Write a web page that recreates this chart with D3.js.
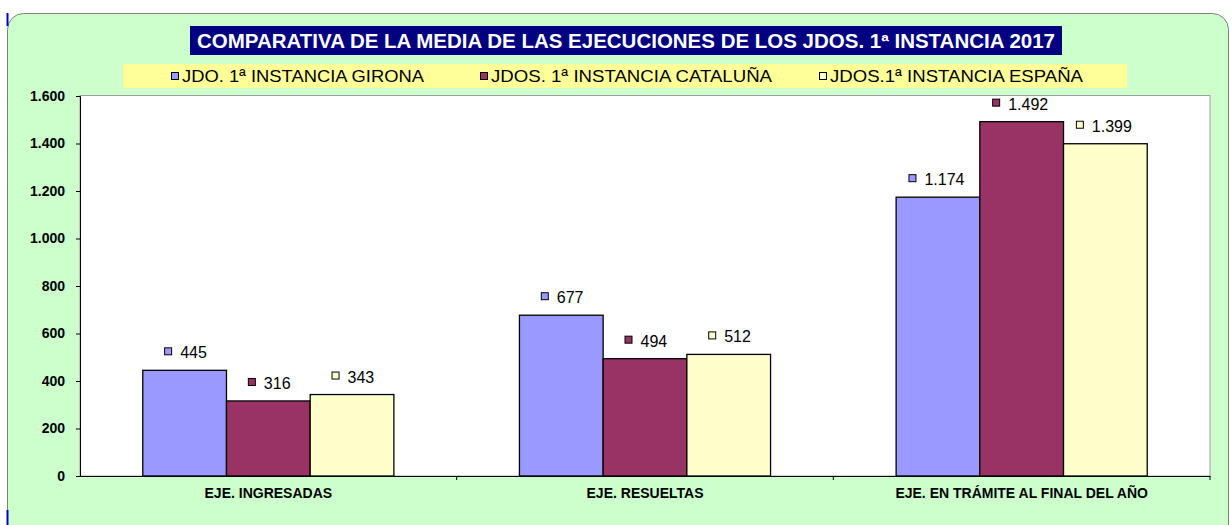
<!DOCTYPE html>
<html>
<head>
<meta charset="utf-8">
<script src="https://cdn.jsdelivr.net/npm/d3@7"></script>
<style>
body { margin: 0; background: #fff; }
text { font-family: Arial, "Liberation Sans", sans-serif; }
</style>
</head>
<body>
<svg id="chart"></svg>
<script>
const categories = ["EJE. INGRESADAS", "EJE. RESUELTAS", "EJE. EN TRÁMITE AL FINAL DEL AÑO"];
const seriesNames = ["JDO. 1ª INSTANCIA GIRONA", "JDOS. 1ª INSTANCIA CATALUÑA", "JDOS.1ª INSTANCIA ESPAÑA"];
const girona = [445, 677, 1174];
const cataluna = [316, 494, 1492];
const espana = [343, 512, 1399];
const yTicks = [0, 200, 400, 600, 800, 1000, 1200, 1400, 1600];
const color = ["#9999FF", "#993366", "#FFFFCC"];

var w = 1232, h = 525;
var svg = d3.select("#chart").attr("width", w).attr("height", h);

// green background panel
svg.append("rect")
    .attr("x", 7.5).attr("y", 13.5)
    .attr("width", 1221).attr("height", 530)
    .attr("rx", 16)
    .attr("fill", "#CCFFCC")
    .attr("stroke", "#808080");
svg.append("line").attr("x1", 7.5).attr("x2", 7.5).attr("y1", 13).attr("y2", 26)
    .attr("stroke", "#0000CC").attr("stroke-width", 2);
svg.append("line").attr("x1", 7.5).attr("x2", 7.5).attr("y1", 510).attr("y2", 525)
    .attr("stroke", "#0000CC").attr("stroke-width", 2);

// title
svg.append("rect").attr("x", 190).attr("y", 26).attr("width", 872).attr("height", 29).attr("fill", "#000080");
svg.append("text").attr("x", 197).attr("y", 47.5)
    .attr("fill", "#fff")
    .attr("font-size", 19.5).attr("font-weight", "bold")
    .attr("textLength", 858).attr("lengthAdjust", "spacingAndGlyphs")
    .text("COMPARATIVA DE LA MEDIA DE LAS  EJECUCIONES  DE LOS JDOS. 1ª INSTANCIA 2017");

// legend
svg.append("rect").attr("x", 123).attr("y", 64).attr("width", 1004).attr("height", 24).attr("fill", "#FFFF99");
const legendX = [171, 480, 819];
const legendLen = [242, 281, 253];
const legend = svg.selectAll(".legend-item")
    .data(seriesNames)
    .enter()
    .append("g")
    .attr("class", "legend-item")
    .attr("transform", (d, i) => "translate(" + legendX[i] + ",76)");
legend.append("rect")
    .attr("x", 0.5).attr("y", -3.5).attr("width", 7).attr("height", 7)
    .attr("fill", (d, i) => color[i]).attr("stroke", "#000");
legend.append("text")
    .attr("x", 11).attr("y", 6)
    .attr("font-size", 17).attr("fill", "#000")
    .attr("textLength", (d, i) => legendLen[i]).attr("lengthAdjust", "spacingAndGlyphs")
    .text(d => d);

// plot area
const pLeft = 80, pRight = 1210, pTop = 96, pBottom = 476;
svg.append("rect").attr("x", pLeft).attr("y", pTop - 0.5).attr("width", pRight - pLeft).attr("height", pBottom - pTop + 0.5)
    .attr("fill", "#fff").attr("stroke", "#A0A0A0");

const x0 = d3.scaleBand().domain(categories).range([pLeft, pRight]).paddingInner(0).paddingOuter(0);
const x1 = d3.scaleBand().domain([0, 1, 2]).range([0, x0.bandwidth()]).paddingInner(0).paddingOuter(0.75);
const y = d3.scaleLinear().domain([0, 1600]).range([pBottom, pTop]);

const rows = categories.map((c, i) => ({ cat: c, vals: [girona[i], cataluna[i], espana[i]] }));

const groups = svg.selectAll(".grp")
    .data(rows)
    .enter()
    .append("g")
    .attr("class", "grp")
    .attr("transform", d => "translate(" + x0(d.cat) + ",0)");

groups.selectAll("rect")
    .data(d => d.vals)
    .enter()
    .append("rect")
    .attr("x", (d, i) => x1(i))
    .attr("y", d => y(d))
    .attr("width", x1.bandwidth())
    .attr("height", d => pBottom - y(d))
    .attr("fill", (d, i) => color[i])
    .attr("stroke", "#000")
    .attr("stroke-width", 1.3);

const fmt = d3.formatLocale({ decimal: ",", thousands: ".", grouping: [3], currency: ["", ""] }).format(",");

const labels = groups.selectAll(".lbl")
    .data(d => d.vals)
    .enter()
    .append("g")
    .attr("class", "lbl")
    .attr("transform", (d, i) => "translate(" + (x1(i) + x1.bandwidth() / 2) + "," + (y(d) - 12) + ")");
labels.append("rect")
    .attr("x", d => -(fmt(d).length * 9 + 16) / 2 + 1.5)
    .attr("y", -10.5).attr("width", 7).attr("height", 7)
    .attr("fill", (d, i) => color[i]).attr("stroke", "#000");
labels.append("text")
    .attr("x", d => -(fmt(d).length * 9 + 16) / 2 + 17)
    .attr("y", 0)
    .attr("font-size", 16).attr("fill", "#000")
    .text(d => fmt(d));

// y axis
const yAxis = d3.axisLeft(y).tickValues(yTicks).tickSize(4).tickPadding(11).tickFormat(d => fmt(d));
const gy = svg.append("g").attr("transform", "translate(" + pLeft + ",0)").call(yAxis);
gy.selectAll("text").attr("font-size", 14).attr("font-weight", "bold").attr("fill", "#000").style("font-family", "Arial, 'Liberation Sans', sans-serif");
gy.selectAll("line, path").attr("stroke", "#000");

// x axis
const xAxis = d3.axisBottom(x0).tickSize(0).tickPadding(12);
const gx = svg.append("g").attr("transform", "translate(0," + pBottom + ")").call(xAxis);
gx.select(".domain").attr("stroke", "#000");
gx.selectAll("text").attr("font-size", 14).attr("font-weight", "bold").attr("fill", "#000").style("font-family", "Arial, 'Liberation Sans', sans-serif");
gx.selectAll(".sep")
    .data(categories.slice(1).concat(["end"]))
    .enter()
    .append("line")
    .attr("class", "sep")
    .attr("x1", (d, i) => pLeft + x0.step() * (i + 1))
    .attr("x2", (d, i) => pLeft + x0.step() * (i + 1))
    .attr("y1", 0).attr("y2", 4)
    .attr("stroke", "#000");
</script>
</body>
</html>
